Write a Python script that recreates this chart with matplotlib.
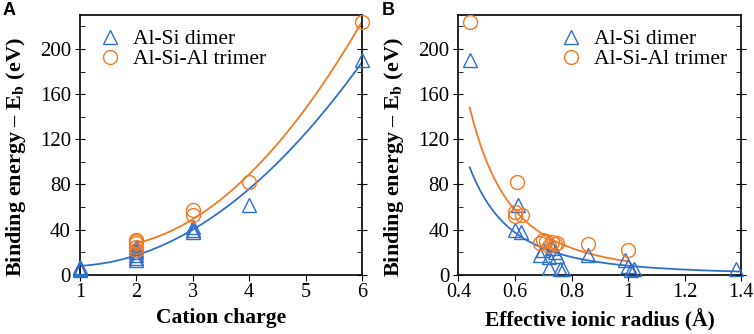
import numpy as np
import matplotlib.pyplot as plt
from matplotlib.ticker import MultipleLocator

plt.rcParams['font.family'] = 'Liberation Serif'
plt.rcParams['mathtext.fontset'] = 'stix'

blue = '#2f6fcc'
orange = '#f47a22'

# panel A: cation charge
charge_dimer = [1, 1, 1, 1, 2, 2, 2, 2, 2, 2, 3, 3, 3, 4, 6]
eb_dimer_a = [4, 5, 6, 7, 13, 15, 18, 20, 22, 25, 38, 40, 42, 62, 190]
charge_trimer = [2, 2, 2, 2, 2, 3, 3, 4, 6]
eb_trimer_a = [22, 25, 28, 30, 31, 53, 57, 82, 224]

# panel B: effective ionic radius (Å)
radius_dimer = [0.44, 0.61, 0.60, 0.62, 0.69, 0.70, 0.72, 0.73, 0.74, 0.75,
                0.72, 0.76, 0.77, 0.86, 0.99, 1.00, 1.01, 1.02, 1.38]
eb_dimer_b = [190, 62, 40, 38, 18, 22, 16, 24, 20, 17,
              6, 5, 5, 18, 13, 8, 4, 5, 5]
radius_trimer = [0.44, 0.606, 0.60, 0.60, 0.624, 0.69, 0.70, 0.71, 0.72, 0.73, 0.74, 0.75, 0.86, 1.00]
eb_trimer_b = [224, 82, 56, 52, 53, 28, 31, 30, 26, 29, 27, 28, 27, 22]

# fitted curves
fit_a_dimer = [6.67, -10.67, 12.0]    # quadratic, charge 1..6
fit_a_trimer = [9.25, -25.0, 41.0]    # quadratic, charge 2..6
fit_b_dimer = (8.1, -3.0)             # a * r**b, r 0.44..1.4
fit_b_trimer = (12.0, -3.06)          # a * r**b, r 0.44..1.0

fig = plt.figure(figsize=(7.54, 3.34), dpi=100)
axA = fig.add_axes([0.106, 0.177, 0.374, 0.778])
axB = fig.add_axes([0.608, 0.177, 0.375, 0.778])

mk = dict(linestyle='none', markerfacecolor='none', markersize=10,
          markeredgewidth=1.0, clip_on=False, zorder=3)
fs = 14.5

xa = np.linspace(1, 6, 200)
axA.plot(xa, np.polyval(fit_a_dimer, xa), color=blue, lw=1.3)
xa2 = np.linspace(2, 6, 200)
axA.plot(xa2, np.polyval(fit_a_trimer, xa2), color=orange, lw=1.3)
axA.plot(charge_dimer, eb_dimer_a, marker='^', color=blue, label='Al-Si dimer', **mk)
axA.plot(charge_trimer, eb_trimer_a, marker='o', color=orange, label='Al-Si-Al trimer', **mk)
axA.set_xlim(1, 6)
axA.xaxis.set_major_locator(MultipleLocator(1))
axA.set_xlabel('Cation charge', fontweight='bold', fontsize=15.5, labelpad=4)

xb = np.linspace(0.44, 1.4, 200)
axB.plot(xb, fit_b_dimer[0] * xb ** fit_b_dimer[1], color=blue, lw=1.3)
xb2 = np.linspace(0.44, 1.0, 200)
axB.plot(xb2, fit_b_trimer[0] * xb2 ** fit_b_trimer[1], color=orange, lw=1.3)
axB.plot(radius_dimer, eb_dimer_b, marker='^', color=blue, label='Al-Si dimer', **mk)
axB.plot(radius_trimer, eb_trimer_b, marker='o', color=orange, label='Al-Si-Al trimer', **mk)
axB.set_xlim(0.4, 1.4)
axB.xaxis.set_major_locator(MultipleLocator(0.2))
axB.xaxis.set_major_formatter(plt.FuncFormatter(lambda v, p: f'{v:g}'))
axB.set_xlabel('Effective ionic radius (Å)', fontweight='bold', fontsize=15.5, labelpad=5)

legend_anchor = {axA: ('upper left', (0.0, 1.0)), axB: ('upper right', (1.0, 1.0))}
for ax, letter in [(axA, 'A'), (axB, 'B')]:
    ax.set_ylim(0, 230)
    ax.yaxis.set_major_locator(MultipleLocator(40))
    ax.yaxis.set_minor_locator(MultipleLocator(20))
    ax.tick_params(axis='y', which='major', direction='inout', length=7, right=True, labelsize=15, pad=3)
    ax.tick_params(axis='y', which='minor', direction='in', length=3.5, right=True)
    ax.tick_params(axis='x', which='major', direction='out', length=4, top=False, labelsize=fs, pad=2)
    for s in ax.spines.values():
        s.set_linewidth(1.2)
    ax.set_ylabel(r'Binding energy – E$_\mathbf{b}$ (eV)', fontweight='bold', fontsize=16)
    ax.yaxis.set_label_coords(-0.185, 0.454)
    loc, anchor = legend_anchor[ax]
    ax.legend(loc=loc, bbox_to_anchor=anchor, frameon=False, fontsize=15.5, handletextpad=0.3,
              borderaxespad=0.25, labelspacing=0.0, handlelength=1.5)
    fig.text(ax.get_position().x0 - 0.102, 0.995, letter, fontfamily='Liberation Sans',
             fontweight='bold', fontsize=13, va='top')

fig.savefig('out.png', dpi=100)
